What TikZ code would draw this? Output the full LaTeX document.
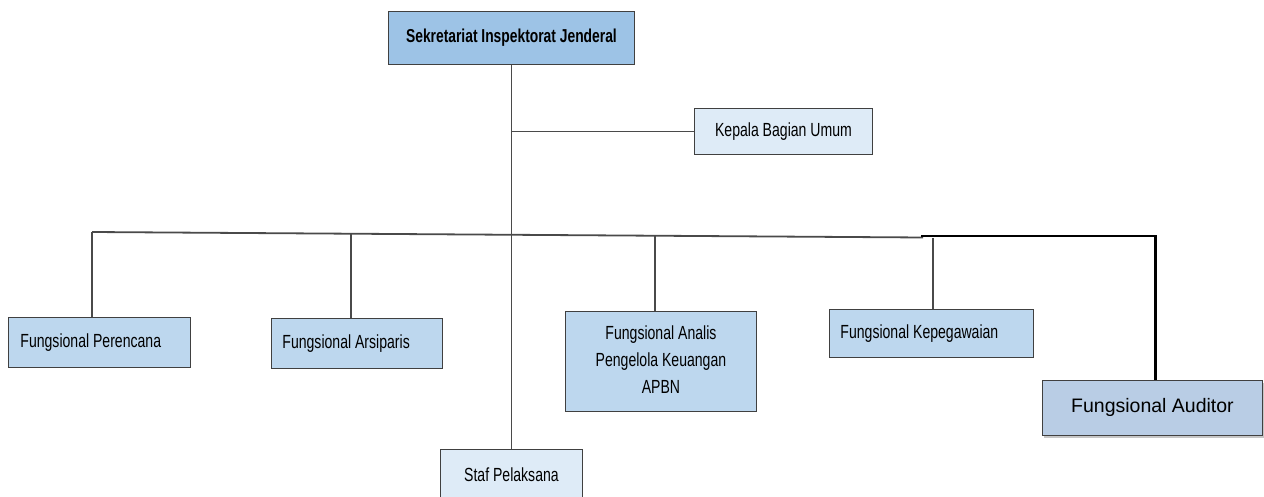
\documentclass[tikz,border=0pt]{standalone}
\usepackage{fontspec}
\newfontfamily\narrowfont{Liberation Sans}[FakeStretch=0.74]
\newfontfamily\plainfont{Liberation Sans}
\usetikzlibrary{positioning}
\usetikzlibrary{shadows}
\definecolor{headblue}{HTML}{9DC3E6}
\definecolor{unitblue}{HTML}{BDD7EE}
\definecolor{paleblue}{HTML}{DEEBF7}
\definecolor{auditblue}{HTML}{B9CDE5}
\definecolor{boxline}{HTML}{404040}
\definecolor{linkgray}{HTML}{4A4A4A}

\begin{document}
\begin{tikzpicture}
	[x=1pt, y=-1pt, link/.style = {draw=linkgray, line width=1.8pt},
	 unit/.style = {draw=boxline, line width=0.9pt, fill=unitblue, anchor=north west, inner ysep=0pt, font=\narrowfont\fontsize{19}{27}\selectfont}]
	\useasboundingbox (0,0) rectangle (1264,497);
	\node[unit, fill=headblue, minimum height=53pt, minimum width=246pt, font=\narrowfont\bfseries\fontsize{18.7}{22}\selectfont] (top) at (388,11) {Sekretariat Inspektorat Jenderal};
	\node[unit, fill=paleblue, minimum height=46pt, minimum width=178pt] (kbu) at (694,108) {Kepala Bagian Umum};
	\node[unit, minimum height=50pt, inner xsep=12pt] (per) at (8,317) {\makebox[158pt][l]{Fungsional Perencana}};
	\node[unit, minimum height=50pt, inner xsep=11pt] (ars) at (271,318) {\makebox[149pt][l]{Fungsional Arsiparis}};
	\node[unit, minimum height=100pt, minimum width=191pt] (ana) at (565,311) {\begin{tabular}{@{}c@{}}Fungsional Analis\\Pengelola Keuangan\\APBN\end{tabular}};
	\node[unit, minimum height=48pt, inner xsep=11pt] (kep) at (829,309) {\makebox[182pt][l]{Fungsional Kepegawaian}};
	\node[unit, fill=auditblue, minimum height=55pt, minimum width=220pt, font=\plainfont\fontsize{19.5}{24}\selectfont,
	      drop shadow={shadow xshift=2pt, shadow yshift=-3pt, opacity=0.45}] (aud) at (1042,380) {Fungsional Auditor};
	\node[unit, fill=paleblue, minimum height=50pt, minimum width=142pt] (staf) at (440,449) {Staf Pelaksana};
	\coordinate (b1) at (92,232);
	\coordinate (b2) at (351,234);
	\coordinate (b3) at (655,236);
	\coordinate (b4) at (933,238);
	\coordinate (b5) at (923,237.5);
	\coordinate (t1) at (921,236);
	\coordinate (k1) at (top.south |- kbu.west);
	\draw[link] (top.south) -- (staf.north);
	\draw[link] (k1) -- (kbu.west);
	\draw[link] (b1) -- (b5);
	\draw[link] (b1) -- (b1 |- per.north);
	\draw[link] (b2) -- (b2 |- ars.north);
	\draw[link] (b3) -- (b3 |- ana.north);
	\draw[link] (b4) -- (b4 |- kep.north);
	\draw[line width=2.6pt] (t1) -| ([xshift=3pt]aud.north);
\end{tikzpicture}
\end{document}
